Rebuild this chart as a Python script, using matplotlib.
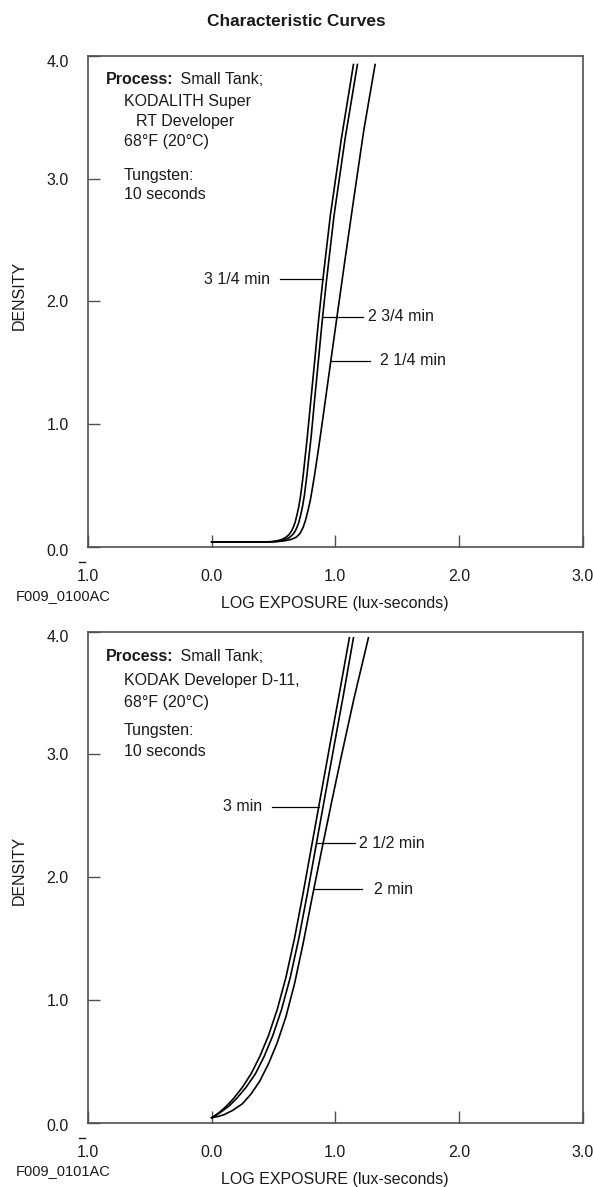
import matplotlib.pyplot as plt
import numpy as np
from matplotlib import transforms

plt.rcParams['font.family'] = ['Liberation Sans', 'DejaVu Sans']

# KODALITH Super RT Developer (top panel)
logE_3q = [0.0, 0.40, 0.48, 0.53, 0.57, 0.60, 0.625, 0.645, 0.66, 0.675, 0.69, 0.705, 0.72, 0.74,
           0.774, 0.80, 0.828, 0.865, 0.90, 0.96, 1.05, 1.147]
dens_3q = [0.04, 0.04, 0.043, 0.05, 0.062, 0.078, 0.10, 0.128, 0.16, 0.20, 0.26, 0.33, 0.42, 0.58,
           0.90, 1.17, 1.46, 1.85, 2.18, 2.70, 3.33, 3.93]
logE_2h3q = [0.0, 0.43, 0.51, 0.56, 0.60, 0.63, 0.655, 0.675, 0.69, 0.705, 0.72, 0.735, 0.75, 0.77,
             0.805, 0.83, 0.858, 0.895, 0.93, 0.99, 1.08, 1.179]
dens_2h3q = [0.04, 0.04, 0.043, 0.05, 0.062, 0.078, 0.10, 0.128, 0.16, 0.20, 0.26, 0.33, 0.42, 0.58,
             0.90, 1.17, 1.46, 1.85, 2.18, 2.70, 3.33, 3.93]
logE_2h1q = [0.0, 0.40, 0.52, 0.59, 0.645, 0.685, 0.715, 0.74, 0.76, 0.78, 0.80, 0.83, 0.86, 0.89,
             0.93, 0.97, 1.02, 1.08, 1.15, 1.23, 1.322]
dens_2h1q = [0.04, 0.04, 0.043, 0.05, 0.062, 0.08, 0.11, 0.16, 0.22, 0.30, 0.39, 0.57, 0.77, 0.98,
             1.27, 1.56, 1.92, 2.35, 2.84, 3.39, 3.93]
labels_top = ["3 1/4 min", "2 3/4 min", "2 1/4 min"]

# KODAK Developer D-11 (bottom panel)
logE_3 = [0.0, 0.03, 0.07, 0.12, 0.18, 0.25, 0.32, 0.39, 0.46, 0.53, 0.60, 0.67, 0.74, 0.81,
          0.88, 0.95, 1.03, 1.114]
dens_3 = [0.04, 0.06, 0.09, 0.135, 0.20, 0.29, 0.40, 0.54, 0.71, 0.92, 1.18, 1.50, 1.87, 2.26,
          2.65, 3.04, 3.48, 3.95]
logE_2h = [0.0, 0.035, 0.08, 0.14, 0.205, 0.28, 0.355, 0.425, 0.495, 0.565, 0.635, 0.705, 0.775,
           0.845, 0.915, 0.985, 1.065, 1.147]
dens_2h = [0.04, 0.06, 0.09, 0.135, 0.20, 0.29, 0.40, 0.54, 0.71, 0.92, 1.18, 1.50, 1.87, 2.26,
           2.65, 3.04, 3.48, 3.95]
logE_2 = [0.0, 0.05, 0.10, 0.17, 0.25, 0.32, 0.39, 0.46, 0.53, 0.60, 0.67, 0.74, 0.81, 0.89,
          0.97, 1.05, 1.15, 1.268]
dens_2 = [0.04, 0.05, 0.065, 0.10, 0.155, 0.235, 0.34, 0.48, 0.65, 0.86, 1.13, 1.46, 1.82, 2.22,
          2.61, 2.99, 3.45, 3.95]
labels_bot = ["3 min", "2 1/2 min", "2 min"]

xTicks = [-1, 0, 1, 2, 3]
xTickLabels = ["1.0", "0.0", "1.0", "2.0", "3.0"]
yTicks = [0, 1, 2, 3, 4]
yTickLabels = ["0.0", "1.0", "2.0", "3.0", "4.0"]

notes_top = ["KODALITH Super", "RT Developer", "68°F (20°C)", "Tungsten:", "10 seconds"]
notes_bot = ["KODAK Developer D-11,", "68°F (20°C)", "Tungsten:", "10 seconds"]

textColor = "#1a1a1a"
frameColor = "#505050"
fs = 11.5


def charPanel(ax, curves, labels, leaders, procY, notes, noteX, noteY, figCode):
    ax.set_xlim(-1, 3)
    ax.set_ylim(0, 4)
    for x, d in curves:
        ax.plot(x, d, color="black", lw=1.2)

    # leader lines from each curve to its label
    for (x, d), lab, (dLead, xEnd, xText, side) in zip(curves, labels, leaders):
        xCurve = np.interp(dLead, d, x)
        ax.plot([xCurve, xEnd], [dLead, dLead], color="black", lw=0.9)
        ax.text(xText, dLead, lab, ha=side, va="center", fontsize=fs, color=textColor)

    for s in ax.spines.values():
        s.set_color(frameColor)
        s.set_linewidth(1.2)
    ax.set_xticks(xTicks, xTickLabels)
    ax.set_yticks(yTicks, yTickLabels)
    ax.tick_params(direction="in", length=8.5, width=1, color=frameColor,
                   labelsize=fs, labelcolor=textColor)
    ax.tick_params(axis="x", pad=16)
    ax.tick_params(axis="y", pad=14)
    # end labels sit a little inside the frame
    ylabs = ax.get_yticklabels()
    ylabs[0].set_transform(ylabs[0].get_transform() +
                           transforms.ScaledTranslation(0, -2 / 72, ax.figure.dpi_scale_trans))
    ylabs[-1].set_transform(ylabs[-1].get_transform() +
                            transforms.ScaledTranslation(0, -3.5 / 72, ax.figure.dpi_scale_trans))

    # overbar on the first tick label (negative characteristic)
    trans = transforms.blended_transform_factory(ax.transData, ax.transAxes)
    ax.plot([-1.074, -1.028], [-0.031, -0.031], transform=trans, clip_on=False,
            color=textColor, lw=1)

    ax.set_ylabel("DENSITY", fontsize=fs, color=textColor)
    ax.yaxis.set_label_coords(-0.124, 0.513)
    ax.text(0.5, -0.116, "LOG EXPOSURE (lux-seconds)", transform=ax.transAxes,
            ha="center", va="center", fontsize=fs, color=textColor)
    ax.text(-0.146, -0.099, figCode, transform=ax.transAxes,
            ha="left", va="center", fontsize=10.5, color=textColor)

    # process notes box
    t1 = ax.text(0.036, procY, "Process:", transform=ax.transAxes, ha="left", va="center",
                 fontsize=fs, fontweight="bold", color=textColor)
    ax.annotate(" Small Tank;", xy=(1, 0), xycoords=t1, xytext=(2, 0), textcoords="offset points",
                ha="left", va="bottom", fontsize=fs, color=textColor)
    for line, nx, ny in zip(notes, noteX, noteY):
        ax.text(nx, ny, line, transform=ax.transAxes, ha="left", va="center",
                fontsize=fs, color=textColor)


fig = plt.figure(figsize=(5.93, 11.87), dpi=100)
axTop = fig.add_axes([0.1484, 0.5392, 0.8340, 0.4137])
axBot = fig.add_axes([0.1484, 0.0542, 0.8340, 0.4137])

fig.text(0.5, 0.9815, "Characteristic Curves", ha="center", va="center",
         fontsize=12.4, fontweight="bold", color=textColor)

charPanel(axTop,
          [(logE_3q, dens_3q), (logE_2h3q, dens_2h3q), (logE_2h1q, dens_2h1q)],
          labels_top,
          [(2.18, 0.553, 0.472, "right"), (1.877, 1.225, 1.265, "left"), (1.516, 1.282, 1.362, "left")],
          0.952, notes_top, [0.072, 0.097, 0.072, 0.072, 0.072],
          [0.908, 0.866, 0.825, 0.756, 0.717], "F009_0100AC")
charPanel(axBot,
          [(logE_3, dens_3), (logE_2h, dens_2h), (logE_2, dens_2)],
          labels_bot,
          [(2.574, 0.486, 0.405, "right"), (2.276, 1.16, 1.19, "left"), (1.9, 1.215, 1.31, "left")],
          0.950, notes_bot, [0.072, 0.072, 0.072, 0.072],
          [0.900, 0.855, 0.798, 0.755], "F009_0101AC")

plt.savefig("out.png", dpi=100)
plt.close()
